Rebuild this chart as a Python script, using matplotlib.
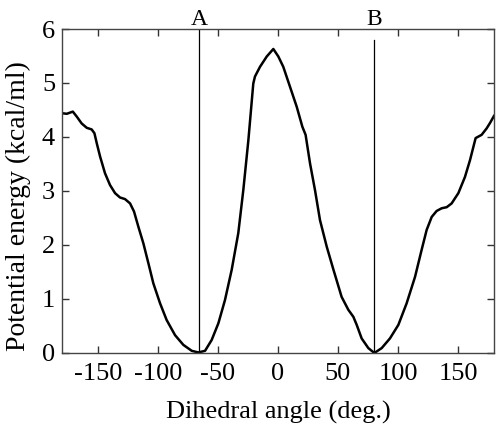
import numpy as np
import matplotlib.pyplot as plt

plt.rcParams['font.family'] = ['Liberation Serif', 'DejaVu Serif']

# dihedral angle (deg.) and potential energy (kcal/ml)
angle = [-180, -176, -171, -167.8, -163.6, -159.4, -155.3, -153, -151, -148.3,
         -144.2, -140, -135.8, -131.7, -127.5, -123.3, -120, -116.4, -112.2, -108,
         -103.9, -98.3, -92.8, -85.8, -78.9, -71.9, -66.4, -60.8, -55.3, -49.7,
         -44.2, -38.6, -33.1, -28.9, -24.7, -20.6, -19.2, -15, -9.4, -3.9,
         0.3, 4.4, 10, 15.6, 20.3, 23, 26.7, 30.8, 35, 40.6,
         46.1, 53, 58.6, 62.8, 65.6, 69.7, 75.3, 80.3, 86.4, 93.3,
         100.3, 107.2, 114.2, 119.7, 123.9, 128.1, 132.2, 136.4, 140.6, 144.7,
         150.3, 155.8, 160, 164.7, 169.7, 173.9, 176.7, 180]
energy = [4.44, 4.43, 4.47, 4.38, 4.25, 4.17, 4.14, 4.07, 3.88, 3.64,
          3.33, 3.11, 2.96, 2.88, 2.85, 2.77, 2.62, 2.34, 2.03, 1.66,
          1.29, 0.92, 0.61, 0.33, 0.15, 0.04, 0.01, 0.04, 0.24, 0.55,
          0.98, 1.54, 2.22, 3.02, 3.94, 4.99, 5.12, 5.30, 5.49, 5.63,
          5.49, 5.30, 4.93, 4.56, 4.19, 4.04, 3.51, 3.02, 2.46, 1.97,
          1.55, 1.04, 0.80, 0.67, 0.52, 0.27, 0.09, 0.0, 0.09, 0.27,
          0.52, 0.92, 1.41, 1.91, 2.28, 2.52, 2.63, 2.68, 2.70, 2.77,
          2.96, 3.26, 3.57, 3.98, 4.04, 4.16, 4.26, 4.39]

marker_names = ['A', 'B']
marker_pos = [-66, 80]
marker_top = [6.0, 5.8]

fig = plt.figure(figsize=(5.01, 4.24), dpi=100)
ax = fig.add_axes([0.1238, 0.1675, 0.8622, 0.7641])

ax.plot(angle, energy, color='black', lw=1.8, solid_joinstyle='round')
for name, pos, top in zip(marker_names, marker_pos, marker_top):
    ax.plot([pos, pos], [0, top], color='black', lw=0.9)
    ax.text(pos, 6.07, name, ha='center', va='baseline', fontsize=17)

ax.set_xlim(-180, 180)
ax.set_ylim(0, 6)
ax.set_xticks([-150, -100, -50, 0, 50, 100, 150])
ax.set_xticklabels(['-150', '-100', '-50', '0', '50', '100', '150'])
ax.set_yticks([0, 1, 2, 3, 4, 5, 6])
ax.tick_params(direction='in', top=True, right=True, length=5, width=1,
               labelsize=19, colors='#333333', labelcolor='black')
ax.tick_params(axis='x', pad=7)
ax.tick_params(axis='y', pad=5)
for s in ax.spines.values():
    s.set_linewidth(1)
    s.set_color('#444444')

ax.set_xlabel('Dihedral angle (deg.)', fontsize=19)
ax.set_ylabel('Potential energy (kcal/ml)', fontsize=20)
ax.xaxis.set_label_coords(0.5, -0.147)
ax.yaxis.set_label_coords(-0.072, 0.454)

fig.savefig('out.png', dpi=100)
